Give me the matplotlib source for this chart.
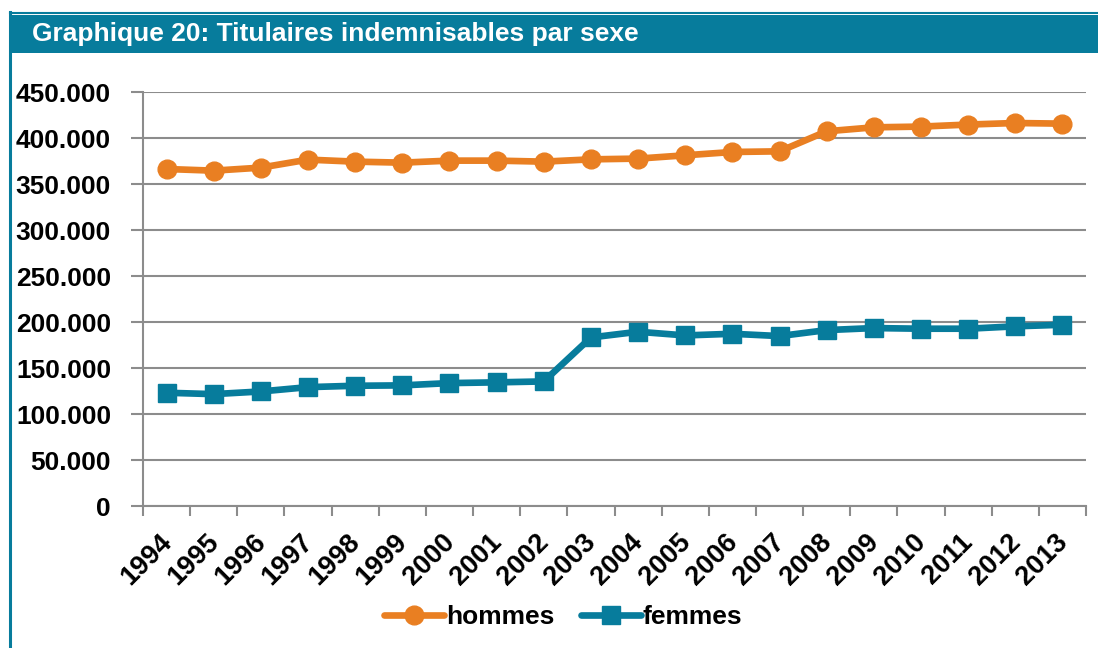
import matplotlib.pyplot as plt
from matplotlib.ticker import FuncFormatter, FixedLocator, NullFormatter
from matplotlib.patches import Rectangle
from matplotlib.lines import Line2D

plt.rcParams['font.family'] = ['Liberation Sans', 'DejaVu Sans']

years = [str(y) for y in range(1994, 2014)]
hommes = [366300, 364500, 367800, 376500, 374300, 373200, 375400, 375400, 374300, 376800,
          377600, 381200, 384800, 385500, 407300, 411600, 412400, 414600, 416300, 415600]
femmes = [123100, 121600, 124500, 129200, 130700, 131100, 133600, 134400, 135400, 183200,
          189400, 185400, 187200, 184700, 191200, 193400, 192700, 192700, 195300, 197000]
labels = ['hommes', 'femmes']
title = 'Graphique 20: Titulaires indemnisables par sexe'

orange = '#E97F22'
teal = '#077C9C'
grey = '#8C8C8C'

fig = plt.figure(figsize=(10.98, 6.48), dpi=100)

# cadre et bandeau du titre
fig.add_artist(Line2D([9.5/1098, 9.5/1098], [0, 1 - 12/648], color=teal, lw=2.2,
                      transform=fig.transFigure))
fig.add_artist(Line2D([9.5/1098, 1], [1 - 12.5/648, 1 - 12.5/648], color=teal, lw=1.5,
                      transform=fig.transFigure))
fig.add_artist(Rectangle((10/1098, 1 - 52.5/648), 1, 37.5/648, color=teal,
                         transform=fig.transFigure, lw=0))
fig.text(32/1098, 1 - 34/648, title, color='white', fontsize=19, fontweight='bold',
         va='center', ha='left')

ax = fig.add_axes([143/1098, 1 - 506/648, (1086 - 143)/1098, (506 - 92)/648])
x = [i + 0.5 for i in range(len(years))]
ax.plot(x, hommes, color=orange, lw=4.8, marker='o', ms=13.5, label=labels[0],
        solid_joinstyle='round', solid_capstyle='round')
ax.plot(x, femmes, color=teal, lw=4.8, marker='s', ms=12.5, label=labels[1],
        solid_joinstyle='round', solid_capstyle='round')

ax.set_xlim(0, len(years))
ax.set_ylim(0, 450000)
ax.set_yticks(range(0, 450001, 50000))
ax.yaxis.set_major_formatter(FuncFormatter(lambda v, p: f'{int(v):,}'.replace(',', '.')))
ax.grid(axis='y', color=grey, lw=1.5)
ax.set_axisbelow(True)

# graduations aux limites des catégories, étiquettes au centre
ax.xaxis.set_major_locator(FixedLocator(range(len(years) + 1)))
ax.xaxis.set_major_formatter(NullFormatter())
for xi, yr in zip(x, years):
    ax.annotate(yr, xy=(xi, 0), xycoords=('data', 'axes fraction'),
                xytext=(-5.8, -16.5), textcoords='offset points',
                rotation=45, ha='right', va='top', rotation_mode='anchor',
                fontsize=19.5, fontweight='bold')
ax.tick_params(axis='x', which='major', length=7, width=1.5, color=grey)
ax.tick_params(axis='y', length=9, width=1.5, color=grey, labelsize=19, pad=14)
for t in ax.get_yticklabels():
    t.set_fontweight('bold')

for s in ['top', 'right']:
    ax.spines[s].set_visible(False)
for s in ['left', 'bottom']:
    ax.spines[s].set_color(grey)
    ax.spines[s].set_linewidth(1.5)

leg = fig.legend(loc='center', bbox_to_anchor=(563/1098, 1 - 617/648), ncol=2,
                 frameon=False, prop={'size': 19, 'weight': 'bold'},
                 handlelength=2.3, handletextpad=0.05, columnspacing=1.0)

plt.savefig('out.png', dpi=100)
